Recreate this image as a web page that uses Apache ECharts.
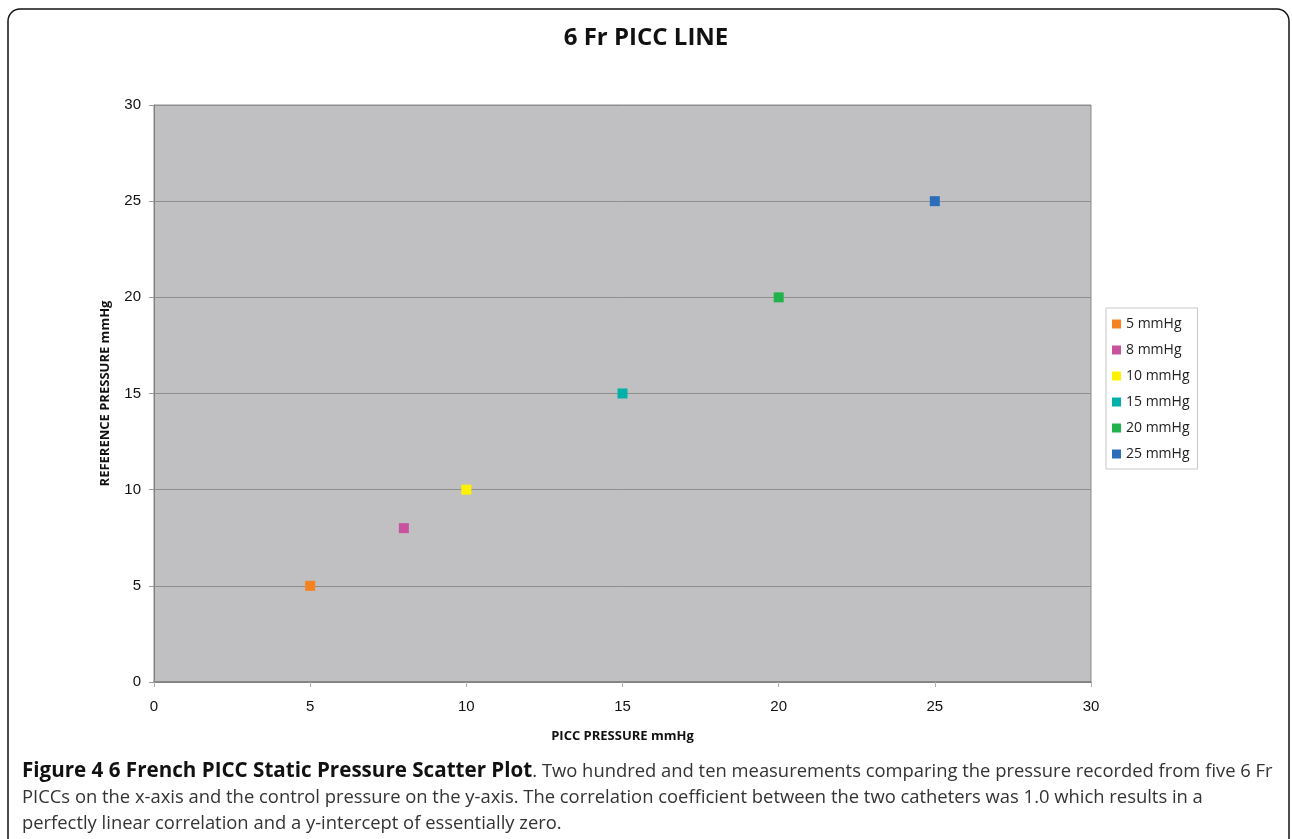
<!DOCTYPE html>
<html>
<head>
<meta charset="utf-8">
<script src="https://cdn.jsdelivr.net/npm/echarts@6/dist/echarts.min.js"></script>
<style>
html,body{margin:0;padding:0;background:#fff;}
#c{width:1292px;height:839px;}
</style>
</head>
<body>
<div id="c"></div>
<script>
const seriesNames = ['5 mmHg','8 mmHg','10 mmHg','15 mmHg','20 mmHg','25 mmHg'];
const piccPressure = [5, 8, 10, 15, 20, 25];
const referencePressure = [5, 8, 10, 15, 20, 25];
const axisTicks = [0, 5, 10, 15, 20, 25, 30];
const palette = ['#F58220','#C9529E','#FFF200','#00B1A9','#22B24C','#2B6DB9'];

const chart = echarts.init(document.getElementById('c'), null, {renderer:'canvas'});

const series = seriesNames.map((n, i) => ({
  name: n,
  type: 'scatter',
  symbol: 'rect',
  symbolSize: 10,
  itemStyle: {color: palette[i], opacity: 1},
  data: [[piccPressure[i], referencePressure[i]]]
}));

const capFont = '"Open Sans", "Noto Sans", sans-serif';

chart.setOption({
  animation: false,
  title: {
    text: '6 Fr PICC LINE',
    left: 'center',
    top: 21,
    textStyle: {fontFamily: capFont, fontWeight: 'bold', fontSize: 24, color: '#111'}
  },
  legend: {
    orient: 'vertical',
    left: 1106,
    top: 308,
    padding: [9, 8, 8, 6],
    borderColor: '#c8c8c8',
    borderWidth: 1,
    itemWidth: 9,
    itemHeight: 9,
    itemGap: 12,
    icon: 'rect',
    textStyle: {fontFamily: capFont, fontSize: 14, color: '#222', lineHeight: 14},
    data: seriesNames
  },
  grid: {
    left: 154, right: 201, top: 105, bottom: 157,
    show: true,
    backgroundColor: '#C0C0C2',
    borderColor: '#8a8a8a',
    borderWidth: 1
  },
  xAxis: {
    type: 'value',
    min: axisTicks[0], max: axisTicks[axisTicks.length-1], interval: 5,
    name: 'PICC PRESSURE mmHg',
    nameLocation: 'middle',
    nameGap: 48,
    nameTextStyle: {fontFamily: capFont, fontWeight: 'bold', fontSize: 13, color: '#111'},
    axisLine: {show: true, lineStyle: {color: '#7f7f7f', width: 1.5}},
    axisTick: {show: true, length: 5, lineStyle: {color: '#b0b0b0'}},
    axisLabel: {fontFamily: '"Liberation Sans", Arial, sans-serif', fontSize: 15, color: '#111', margin: 17},
    splitLine: {show: false}
  },
  yAxis: {
    type: 'value',
    min: axisTicks[0], max: axisTicks[axisTicks.length-1], interval: 5,
    name: 'REFERENCE PRESSURE mmHg',
    nameLocation: 'middle',
    nameGap: 42,
    nameRotate: 90,
    nameTextStyle: {fontFamily: capFont, fontWeight: 'bold', fontSize: 13, color: '#111'},
    axisLine: {show: true, lineStyle: {color: '#7f7f7f', width: 1}},
    axisTick: {show: true, length: 5, lineStyle: {color: '#9a9a9a'}},
    axisLabel: {fontFamily: '"Liberation Sans", Arial, sans-serif', fontSize: 15, color: '#111', margin: 13},
    splitLine: {show: true, lineStyle: {color: '#8e8e8e', width: 1}}
  },
  series: series,
  graphic: [
    {
      type: 'rect',
      shape: {x: 8, y: 9, width: 1281, height: 900, r: 12},
      style: {fill: 'none', stroke: '#111', lineWidth: 1.5},
      silent: true
    },
    {
      type: 'text',
      left: 22,
      top: 761,
      style: {
        rich: {
          b: {fontFamily: capFont, fontWeight: 'bold', fontSize: 20.6, fill: '#111', lineHeight: 26},
          n: {fontFamily: capFont, fontSize: 18.4, fill: '#333', lineHeight: 26}
        },
        text: '{b|Figure 4 6 French PICC Static Pressure Scatter Plot}{n|. Two hundred and ten measurements comparing the pressure recorded from five 6 Fr}\n' +
              '{n|PICCs on the x-axis and the control pressure on the y-axis. The correlation coefficient between the two catheters was 1.0 which results in a}\n' +
              '{n|perfectly linear correlation and a y-intercept of essentially zero.}'
      }
    }
  ]
});
</script>
</body>
</html>
